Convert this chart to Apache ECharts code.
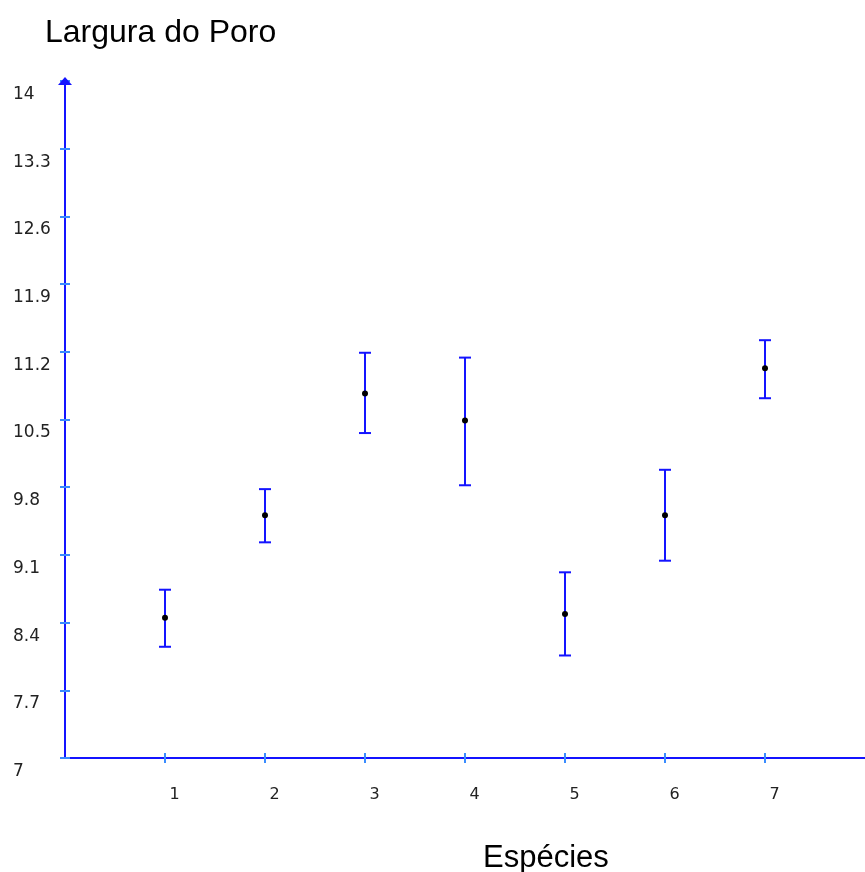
<!DOCTYPE html>
<html>
<head>
<meta charset="utf-8">
<script src="https://cdn.jsdelivr.net/npm/echarts@6/dist/echarts.min.js"></script>
<style>
html,body{margin:0;padding:0;background:#fff;}
#chart{width:865px;height:872px;}
</style>
</head>
<body>
<div id="chart"></div>
<script>
const species = [1, 2, 3, 4, 5, 6, 7];
const means = [8.45, 9.51, 10.77, 10.49, 8.49, 9.51, 11.03];
const upper = [8.74, 9.78, 11.19, 11.14, 8.92, 9.98, 11.32];
const lower = [8.15, 9.23, 10.36, 9.82, 8.06, 9.04, 10.72];
const yTicks = [7, 7.7, 8.4, 9.1, 9.8, 10.5, 11.2, 11.9, 12.6, 13.3, 14];

const AXIS_BLUE = '#1414ff';
const TICK_BLUE = '#3a8cff';
const LABEL_FONT = 'DejaVu Sans';

const data = species.map((s, i) => [s, means[i], lower[i], upper[i]]);

const chart = echarts.init(document.getElementById('chart'));
chart.setOption({
  backgroundColor: '#ffffff',
  animation: false,
  title: [
    { text: 'Largura do Poro', left: 40, top: 12,
      textStyle: { fontFamily: 'Liberation Sans', fontSize: 32, fontWeight: 'normal', color: '#000' } },
    { text: 'Espécies', left: 478, top: 838,
      textStyle: { fontFamily: 'Liberation Sans', fontSize: 31, fontWeight: 'normal', color: '#000' } }
  ],
  grid: { left: 65, right: 0, top: 81, bottom: 114, containLabel: false },
  xAxis: [
    { type: 'value', position: 'bottom', min: 0, max: 8, interval: 1,
      axisLine: { show: true, lineStyle: { color: AXIS_BLUE, width: 2 } },
      axisTick: { show: true, inside: false, length: 5, customValues: species, lineStyle: { color: TICK_BLUE, width: 2 } },
      axisLabel: { show: true, customValues: species, margin: 29, verticalAlign: 'top',
        padding: [0, 0, 0, 19], fontFamily: LABEL_FONT, fontSize: 16, color: '#222' },
      splitLine: { show: false } },
    { type: 'value', position: 'bottom', min: 0, max: 8, interval: 1,
      axisLine: { show: false },
      axisTick: { show: true, inside: true, length: 5, customValues: species, lineStyle: { color: TICK_BLUE, width: 2 } },
      axisLabel: { show: false },
      splitLine: { show: false } }
  ],
  yAxis: [
    { type: 'value', position: 'left', min: 7, max: 14, interval: 0.7,
      axisLine: { show: true, symbol: ['none', 'triangle'], symbolSize: [14, 8],
        lineStyle: { color: AXIS_BLUE, width: 2 } },
      axisTick: { show: true, inside: false, length: 5, lineStyle: { color: TICK_BLUE, width: 2 } },
      axisLabel: { show: true, customValues: yTicks, align: 'left', margin: 52, verticalAlign: 'top',
        lineHeight: 27, fontFamily: LABEL_FONT, fontSize: 17, color: '#222',
        formatter: v => String(Math.round(v * 10) / 10) },
      splitLine: { show: false } },
    { type: 'value', position: 'left', min: 7, max: 14, interval: 0.7,
      axisLine: { show: false },
      axisTick: { show: true, inside: true, length: 5, lineStyle: { color: TICK_BLUE, width: 2 } },
      axisLabel: { show: false },
      splitLine: { show: false } }
  ],
  series: [{
    type: 'custom',
    xAxisIndex: 0, yAxisIndex: 0,
    data: data,
    renderItem: function (params, api) {
      const x = api.value(0);
      const m = api.coord([x, api.value(1)]);
      const lo = api.coord([x, api.value(2)]);
      const hi = api.coord([x, api.value(3)]);
      const cap = 6;
      const ls = { stroke: AXIS_BLUE, lineWidth: 2 };
      return {
        type: 'group',
        children: [
          { type: 'line', shape: { x1: hi[0], y1: hi[1], x2: lo[0], y2: lo[1] }, style: ls },
          { type: 'line', shape: { x1: hi[0] - cap, y1: hi[1], x2: hi[0] + cap, y2: hi[1] }, style: ls },
          { type: 'line', shape: { x1: lo[0] - cap, y1: lo[1], x2: lo[0] + cap, y2: lo[1] }, style: ls },
          { type: 'circle', shape: { cx: m[0], cy: m[1], r: 3 }, style: { fill: '#000' } }
        ]
      };
    }
  }]
});
</script>
</body>
</html>
